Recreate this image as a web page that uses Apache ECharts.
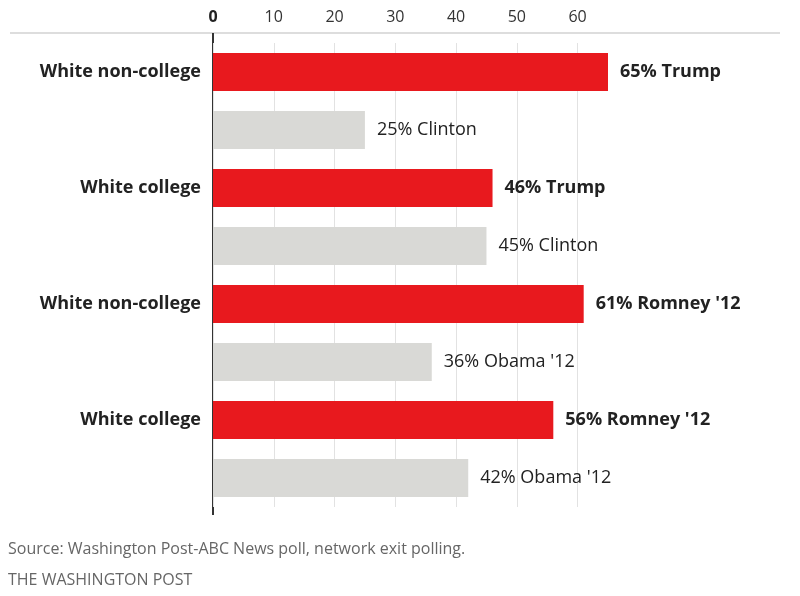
<!DOCTYPE html>
<html>
<head>
<meta charset="utf-8">
<script src="https://cdn.jsdelivr.net/npm/echarts@6/dist/echarts.min.js"></script>
<style>html,body{margin:0;padding:0;background:#fff}#chart{width:800px;height:596px}</style>
</head>
<body>
<div id="chart"></div>
<script>
// 按群体排列的投票数据
const rows = [
    { group: 'White non-college', value: 65, text: '65% Trump', win: true },
    { group: '', value: 25, text: '25% Clinton', win: false },
    { group: 'White college', value: 46, text: '46% Trump', win: true },
    { group: '', value: 45, text: '45% Clinton', win: false },
    { group: 'White non-college', value: 61, text: "61% Romney '12", win: true },
    { group: '', value: 36, text: "36% Obama '12", win: false },
    { group: 'White college', value: 56, text: "56% Romney '12", win: true },
    { group: '', value: 42, text: "42% Obama '12", win: false }
];

const chart = echarts.init(document.getElementById('chart'));
const font = '"Open Sans", sans-serif';

const option = {
    animation: false,
    grid: { left: 213, top: 43, width: 395, bottom: 89 },
    xAxis: {
        type: 'value',
        position: 'top',
        min: 0,
        max: 65,
        interval: 10,
        axisLine: { show: false },
        axisTick: { show: false },
        axisLabel: {
            margin: 18,
            fontSize: 16,
            fontFamily: font,
            color: '#333',
            formatter: function (v) { return v > 60 ? '' : (v === 0 ? '{b|0}' : v); },
            rich: { b: { fontWeight: 'bold', fontSize: 16, fontFamily: font, color: '#222' } }
        },
        splitLine: { showMaxLine: false, lineStyle: { color: '#e2e2e2', width: 1 } }
    },
    yAxis: {
        type: 'category',
        inverse: true,
        data: rows.map((r, i) => r.group || (' '.repeat(i))),
        axisLine: { show: false },
        axisTick: { show: false },
        axisLabel: {
            margin: 12,
            fontSize: 18,
            fontWeight: 'bold',
            fontFamily: font,
            color: '#222',
            formatter: function (v) { return v.trim(); }
        }
    },
    series: [{
        type: 'bar',
        barWidth: 38,
        data: rows.map(r => ({
            value: r.value,
            itemStyle: { color: r.win ? '#e8191e' : '#d9d9d6' },
            label: {
                show: true,
                position: 'right',
                distance: 12,
                formatter: r.text,
                fontSize: 18,
                fontFamily: font,
                fontWeight: r.win ? 'bold' : 'normal',
                color: '#222'
            }
        }))
    }],
    graphic: [
        { type: 'line', shape: { x1: 10, y1: 33, x2: 780, y2: 33 }, style: { stroke: '#bbb', lineWidth: 1 } },
        { type: 'line', shape: { x1: 213, y1: 33, x2: 213, y2: 515 }, style: { stroke: '#333', lineWidth: 2 } },
        { type: 'text', left: 8, top: 541, style: { text: 'Source: Washington Post-ABC News poll, network exit polling.', fontSize: 16, fontFamily: font, fill: '#666' } },
        { type: 'text', left: 8, top: 572, style: { text: 'THE WASHINGTON POST', fontSize: 16, fontFamily: font, fill: '#666' } }
    ]
};

chart.setOption(option);
</script>
</body>
</html>
